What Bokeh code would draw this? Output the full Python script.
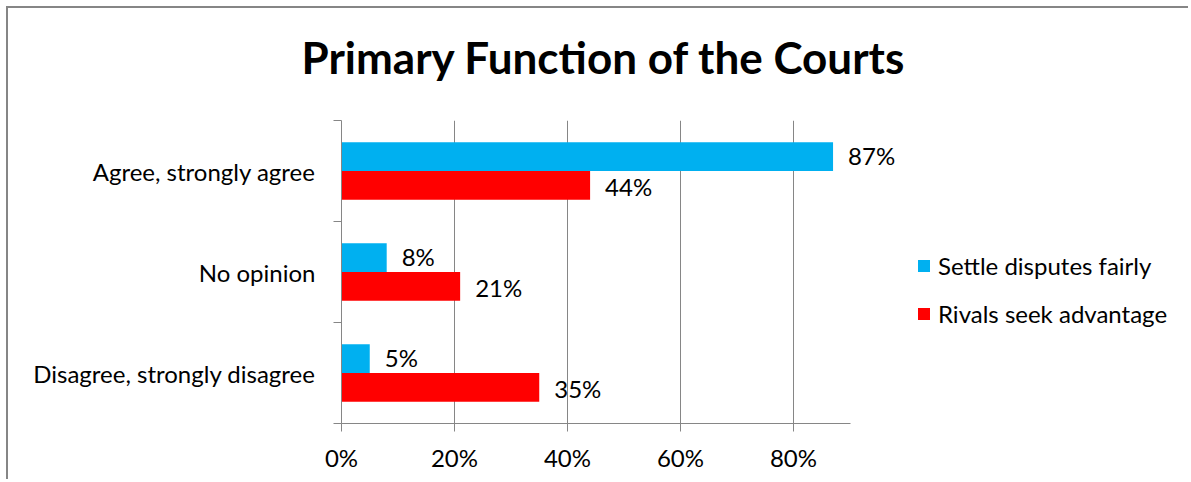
from bokeh.plotting import figure
from bokeh.models import (Range1d, FixedTicker, Legend, LegendItem, ColumnDataSource,
                          NumeralTickFormatter, InlineStyleSheet, Title)
from bokeh.embed import file_html
from bokeh.resources import INLINE
from bokeh.core.properties import value

title = "Primary Function of the Courts"
categories = ["Agree, strongly agree", "No opinion", "Disagree, strongly disagree"]
settle = [0.87, 0.08, 0.05]
rivals = [0.44, 0.21, 0.35]
series_names = ["Settle disputes fairly", "Rivals seek advantage"]
x_ticks = [0, 0.2, 0.4, 0.6, 0.8]
x_axis_max = 0.9

FONT = "Lato"
GRAY = "#868686"
BLUE = "#00B0F0"
RED = "#FF0000"

# canvas starts at page (8, 8): 6px margin + 2px border
OFF = 8
W, H = 1182, 473
FRAME_LEFT, FRAME_TOP, FRAME_BOTTOM = 341, 120, 423   # page pixels
X_PX = 508.5 / x_axis_max                              # pixels per x unit
n = len(categories)

x_end = (OFF + W - FRAME_LEFT) / X_PX

centers = [n - 1 - i + 0.5 for i in range(n)]
bh = 0.284

src = ColumnDataSource(dict(
    yb=[c + bh / 2 for c in centers],
    yr=[c - bh / 2 for c in centers],
    settle=settle,
    rivals=rivals,
    lb=[f"{round(v*100)}%" for v in settle],
    lr=[f"{round(v*100)}%" for v in rivals],
))

css = InlineStyleSheet(css=f":host {{ margin: 6px 0 0 6px; border-top: 2px solid {GRAY}; "
                           f"border-left: 2px solid {GRAY}; }}")

p = figure(width=W, height=H, output_backend="svg", toolbar_location=None,
           x_range=Range1d(0, x_end), y_range=Range1d(0, n),
           min_border_left=FRAME_LEFT - OFF, min_border_right=0,
           min_border_top=FRAME_TOP - OFF,
           min_border_bottom=OFF + H - FRAME_BOTTOM, stylesheets=[css])

# blank spacer between the frame and the chart title
p.add_layout(Title(text=" ", text_font_size="10px", standoff=24), "above")
p.add_layout(Title(text=title, text_font=FONT, text_font_size="44px",
                   text_font_style="bold", text_color="black", align="left",
                   offset=-40, vertical_align="middle", standoff=0), "above")

p.outline_line_color = None
p.background_fill_color = "white"
p.border_fill_color = "white"

p.ygrid.grid_line_color = None
p.xgrid.grid_line_color = GRAY
p.xgrid.grid_line_width = 1
p.xgrid.ticker = FixedTicker(ticks=x_ticks)

p.xaxis.ticker = FixedTicker(ticks=x_ticks)
p.xaxis.bounds = (0, x_axis_max)
p.xaxis.formatter = NumeralTickFormatter(format="0%")
p.xaxis.axis_line_color = GRAY
p.xaxis.major_tick_line_color = GRAY
p.xaxis.major_tick_out = 8
p.xaxis.major_tick_in = 0
p.xaxis.minor_tick_line_color = None
p.xaxis.major_label_text_font = FONT
p.xaxis.major_label_text_font_size = "24px"
p.xaxis.major_label_text_color = "black"
p.xaxis.major_label_standoff = 11

p.yaxis.ticker = FixedTicker(ticks=centers, minor_ticks=list(range(n + 1)))
p.yaxis.major_label_overrides = {c: cat for c, cat in zip(centers, categories)}
p.yaxis.axis_line_color = GRAY
p.yaxis.major_tick_line_color = None
p.yaxis.major_tick_out = 0
p.yaxis.major_tick_in = 0
p.yaxis.minor_tick_line_color = GRAY
p.yaxis.minor_tick_out = 8
p.yaxis.minor_tick_in = 0
p.yaxis.major_label_text_font = FONT
p.yaxis.major_label_text_font_size = "24px"
p.yaxis.major_label_text_color = "black"
p.yaxis.major_label_standoff = 18

rb = p.hbar(y="yb", left=0, right="settle", height=bh, source=src,
            fill_color=BLUE, line_color=None)
rr = p.hbar(y="yr", left=0, right="rivals", height=bh, source=src,
            fill_color=RED, line_color=None)

p.text(x="settle", y="yb", text="lb", source=src, x_offset=15, y_offset=-1,
       text_font=value(FONT), text_font_size="24px", text_baseline="middle",
       text_align="left", text_color="black")
p.text(x="rivals", y="yr", text="lr", source=src, x_offset=15, y_offset=1,
       text_font=value(FONT), text_font_size="24px", text_baseline="middle",
       text_align="left", text_color="black")

legend = Legend(items=[LegendItem(label=series_names[0], renderers=[rb]),
                       LegendItem(label=series_names[1], renderers=[rr])],
                location=(575, 95), orientation="vertical")
legend.glyph_width = 15
legend.glyph_height = 15
legend.label_standoff = 7
legend.label_height = 24
legend.spacing = 19
legend.padding = 0
legend.margin = 0
legend.border_line_color = None
legend.background_fill_alpha = 0
legend.label_text_font = FONT
legend.label_text_font_size = "24px"
legend.label_text_color = "black"
p.add_layout(legend, "center")

open("out.html", "w").write(file_html(p, INLINE))
